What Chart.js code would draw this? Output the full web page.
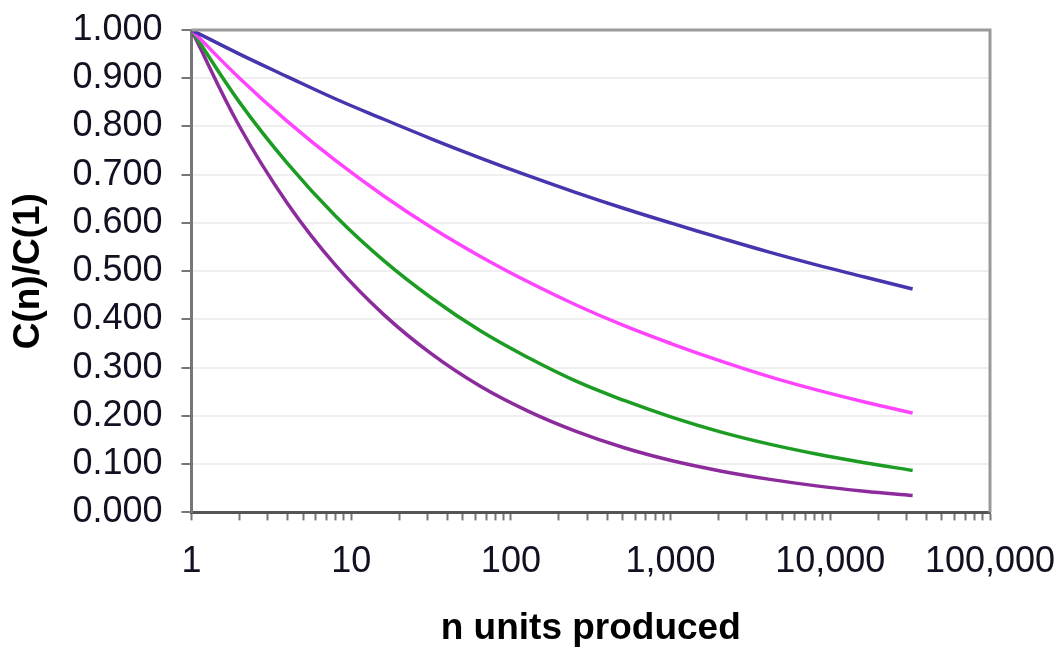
<!DOCTYPE html>
<html>
<head>
<meta charset="utf-8">
<script src="https://cdn.jsdelivr.net/npm/chart.js@4.4.1/dist/chart.umd.min.js"></script>
<style>
  html, body { margin: 0; padding: 0; background: #ffffff; }
  #wrap { width: 1064px; height: 652px; }
</style>
</head>
<body>
<div id="wrap"><canvas id="curve"></canvas></div>
<script>
/* --------------- Data: units produced (doubling) --------------------- */
const units = [1, 2, 4, 8, 16, 32, 64, 128, 256, 512, 1024, 2048, 4096, 8192, 16384, 32768];
/* --------------- Cost ratio C(n)/C(1) ----------------------------------------- */
const curve95 = [1.000, 0.950, 0.903, 0.857, 0.815, 0.774, 0.735, 0.698, 0.663, 0.630, 0.599, 0.569, 0.540, 0.513, 0.488, 0.463];
const curve90 = [1.000, 0.900, 0.810, 0.729, 0.656, 0.590, 0.531, 0.478, 0.430, 0.387, 0.349, 0.314, 0.282, 0.254, 0.229, 0.206];
const curve85 = [1.000, 0.850, 0.723, 0.614, 0.522, 0.444, 0.377, 0.321, 0.272, 0.232, 0.197, 0.167, 0.142, 0.121, 0.103, 0.087];
const curve80 = [1.000, 0.800, 0.640, 0.512, 0.410, 0.328, 0.262, 0.210, 0.168, 0.134, 0.107, 0.086, 0.069, 0.055, 0.044, 0.035];
/* --------------- Axis labels --------------------- */
const xMajor = [1, 10, 100, 1000, 10000, 100000];
const xMajorLabels = ["1", "10", "100", "1,000", "10,000", "100,000"];

const lineColors = ["#4636ad", "#ff44ff", "#1c9c22", "#8c2c9c"];

const toPoints = (vals) => units.map((n, i) => ({ x: n, y: vals[i] }));

/* --------------- Frame round the plot area --------------------- */
const frame = {
  id: "frame",
  afterDraw(chart) {
    const { ctx, chartArea: a } = chart;
    ctx.save();
    ctx.strokeStyle = "#9a9a9a";
    ctx.lineWidth = 3;
    ctx.beginPath();
    ctx.moveTo(a.left, a.top);
    ctx.lineTo(a.right, a.top);
    ctx.lineTo(a.right, a.bottom);
    ctx.stroke();
    ctx.restore();
  },
};

// let the layout padding alone decide where the plot area sits
const noLabelPadding = (scale) => {
  scale.paddingLeft = 0;
  scale.paddingRight = 0;
  scale.paddingTop = 0;
  scale.paddingBottom = 0;
};

const axisFont = { family: "'Liberation Sans', Arial, sans-serif", size: 36 };
const titleFont = { family: "'Liberation Sans', Arial, sans-serif", size: 37, weight: "bold" };

new Chart(document.getElementById("curve"), {
  type: "line",
  plugins: [frame],
  data: {
    datasets: [curve95, curve90, curve85, curve80].map((vals, i) => ({
      data: toPoints(vals),
      borderColor: lineColors[i],
      borderWidth: 3.5,
      pointRadius: 0,
      tension: 0.4,
      fill: false,
    })),
  },
  options: {
    responsive: true,
    maintainAspectRatio: false,
    animation: false,
    layout: { padding: { left: 7, right: 74, top: 30, bottom: 0 } },
    plugins: {
      legend: { display: false },
      tooltip: { enabled: false },
    },
    scales: {
      x: {
        type: "logarithmic",
        min: 1,
        max: 100000,
        afterFit: noLabelPadding,
        afterBuildTicks: (axis) => {
          const t = [];
          for (let d = 1; d < 100000; d *= 10) {
            for (let m = 1; m < 10; m++) t.push({ value: m * d });
          }
          t.push({ value: 100000 });
          axis.ticks = t;
        },
        ticks: {
          autoSkip: false,
          maxRotation: 0,
          color: "#111122",
          font: axisFont,
          padding: 20,
          callback: (v) => {
            const k = xMajor.indexOf(v);
            return k >= 0 ? xMajorLabels[k] : "";
          },
        },
        grid: {
          drawOnChartArea: false,
          tickLength: 8,
          tickColor: "#777777",
          tickWidth: 2,
        },
        border: { color: "#555555", width: 3 },
        title: {
          display: true,
          text: "n units produced",
          color: "#000000",
          font: titleFont,
          padding: { top: 3, bottom: 1 },
        },
      },
      y: {
        min: 0,
        max: 1,
        afterFit: noLabelPadding,
        ticks: {
          stepSize: 0.1,
          autoSkip: false,
          color: "#111122",
          font: axisFont,
          padding: 19,
          callback: (v) => Number(v).toFixed(3),
        },
        grid: {
          color: "#efefef",
          lineWidth: 2,
          tickLength: 10,
          tickColor: "#777777",
          tickWidth: 2,
        },
        border: { color: "#777777", width: 3 },
        title: {
          display: true,
          text: "C(n)/C(1)",
          color: "#000000",
          font: titleFont,
          padding: { top: 0, bottom: 2 },
        },
      },
    },
  },
});
</script>
</body>
</html>
